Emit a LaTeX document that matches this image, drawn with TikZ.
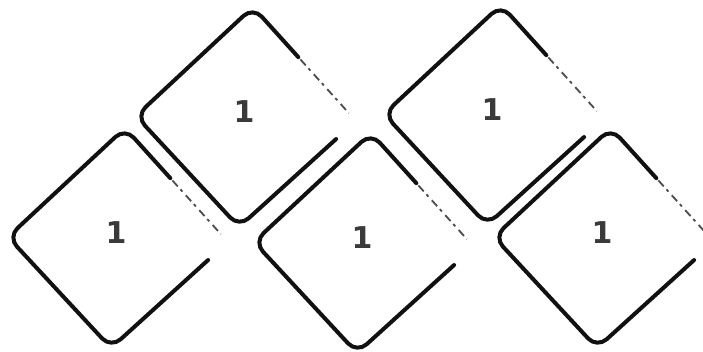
\documentclass[tikz,border=0pt]{standalone}
\usepackage{fontspec}
\setsansfont{DejaVu Sans}
\usetikzlibrary{calc}
\definecolor{ink}{HTML}{111111}
\definecolor{numgray}{HTML}{3A3A3A}
\tikzset{
  tileline/.style={draw=ink, line width=4pt, rounded corners=13pt, line cap=round, line join=round},
  fadeline/.style={draw=ink!75, line width=1.8pt, dash pattern=on 8pt off 4pt on 3pt off 5pt},
  numlabel/.style={text=numgray, font=\sffamily\bfseries\fontsize{30}{30}\selectfont, inner sep=0pt}
}
\newcommand{\tile}[3]{%
  \coordinate (#1) at (#2,#3);
  \coordinate (#1-t) at ($(#1)+(7,-110)$);
  \coordinate (#1-b) at ($(#1)+(-7,110)$);
  \coordinate (#1-l) at ($(#1)+(-110,-1)$);
  \coordinate (#1-r) at ($(#1)+(110,4)$);
  \draw[tileline] ($(#1-b)!0.83!(#1-r)$) -- (#1-b) -- (#1-l) -- (#1-t) -- ($(#1-t)!0.44!(#1-r)$);
  \draw[fadeline] ($(#1-t)!0.46!(#1-r)$) -- ($(#1-t)!0.93!(#1-r)$);
  \node[numlabel] (#1-n) at ($(#1)+(-2,-5)$) {1};
}
\begin{document}
\begin{tikzpicture}[x=1pt,y=-1pt]
  \useasboundingbox (0,0) rectangle (703,351);
  \fill[white] (0,0) rectangle (703,351);
  \tile{A}{246}{117}
  \tile{B}{118}{238}
  \tile{C}{364}{243}
  \tile{D}{494}{115}
  \tile{E}{604}{238}
\end{tikzpicture}
\end{document}
